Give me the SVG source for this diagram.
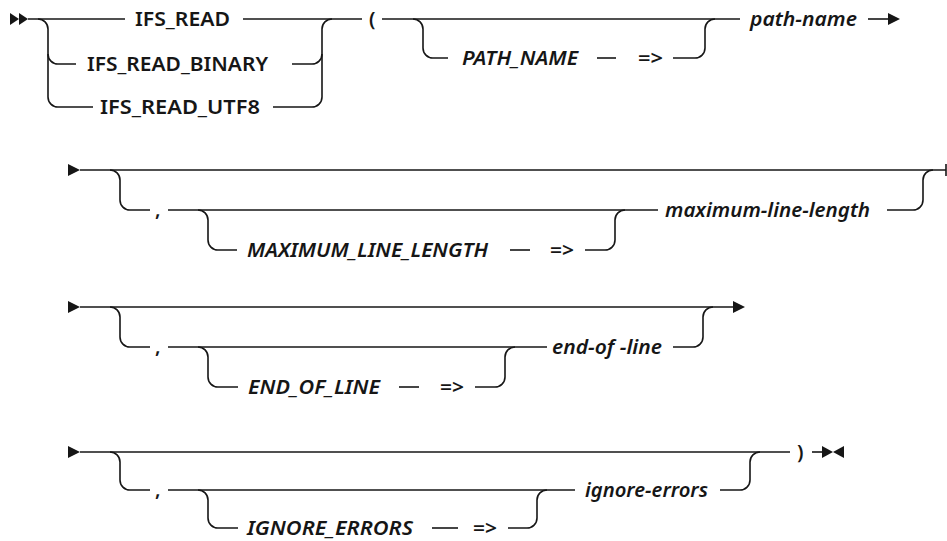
<svg xmlns="http://www.w3.org/2000/svg" width="947" height="541" viewBox="0 0 947 541">
<style>
.ln{fill:none;stroke:#161616;stroke-width:1.6}
.ah{fill:#161616;stroke:none}
.kw{font-family:"Noto Sans","Liberation Sans",sans-serif;font-weight:600;font-size:20px;fill:#161616}
.var{font-family:"Noto Sans","Liberation Sans",sans-serif;font-weight:600;font-style:italic;font-size:20px;fill:#161616}
</style>
<rect width="947" height="541" fill="#ffffff"/>
<g id="connectors">
  <polygon class="ah" points="10,13 19,19 10,25"/>
  <polygon class="ah" points="19,13 28,19 19,25"/>
  <path class="ln" d="M28,19 H125"/>
  <path class="ln" d="M38,19 A10,10 0 0 1 48,29 V97 A10,10 0 0 0 58,107 H93"/>
  <path class="ln" d="M48,54 A10,10 0 0 0 58,64 H76"/>
  <path class="ln" d="M243,19 H362"/>
  <path class="ln" d="M292,64 H312 A10,10 0 0 0 322,54 V29 A10,10 0 0 1 332,19"/>
  <path class="ln" d="M273,107 H312 A10,10 0 0 0 322,97 V54"/>
  <path class="ln" d="M382,19 H740"/>
  <path class="ln" d="M413,19 A10,10 0 0 1 423,29 V48 A10,10 0 0 0 433,58 H448"/>
  <path class="ln" d="M597,58 H616"/>
  <path class="ln" d="M673,58 H695 A10,10 0 0 0 705,48 V29 A10,10 0 0 1 715,19"/>
  <path class="ln" d="M868,19 H890"/>
  <polygon class="ah" points="888,13 900,19 888,25"/>
  <polygon class="ah" points="68,164 80,170 68,176"/>
  <path class="ln" d="M80,170 H946"/>
  <path class="ln" d="M946,164 V176"/>
  <path class="ln" d="M110,170 A10,10 0 0 1 120,180 V200 A10,10 0 0 0 130,210 H150"/>
  <path class="ln" d="M168,210 H658"/>
  <path class="ln" d="M198,210 A10,10 0 0 1 208,220 V240 A10,10 0 0 0 218,250 H237"/>
  <path class="ln" d="M510,250 H530"/>
  <path class="ln" d="M585,250 H605 A10,10 0 0 0 615,240 V220 A10,10 0 0 1 625,210"/>
  <path class="ln" d="M887,210 H913 A10,10 0 0 0 923,200 V180 A10,10 0 0 1 933,170"/>
  <polygon class="ah" points="68,301 80,307 68,313"/>
  <path class="ln" d="M80,307 H735"/>
  <polygon class="ah" points="733,301 745,307 733,313"/>
  <path class="ln" d="M110,307 A10,10 0 0 1 120,317 V337 A10,10 0 0 0 130,347 H150"/>
  <path class="ln" d="M168,347 H547"/>
  <path class="ln" d="M198,347 A10,10 0 0 1 208,357 V377 A10,10 0 0 0 218,387 H238"/>
  <path class="ln" d="M399,387 H419"/>
  <path class="ln" d="M475,387 H495 A10,10 0 0 0 505,377 V357 A10,10 0 0 1 515,347"/>
  <path class="ln" d="M673,347 H693 A10,10 0 0 0 703,337 V317 A10,10 0 0 1 713,307"/>
  <polygon class="ah" points="68,446 80,452 68,458"/>
  <path class="ln" d="M80,452 H790"/>
  <path class="ln" d="M110,452 A10,10 0 0 1 120,462 V480 A10,10 0 0 0 130,490 H150"/>
  <path class="ln" d="M168,490 H575"/>
  <path class="ln" d="M198,490 A10,10 0 0 1 208,500 V518 A10,10 0 0 0 218,528 H238"/>
  <path class="ln" d="M432,528 H458"/>
  <path class="ln" d="M508,528 H527 A10,10 0 0 0 537,518 V500 A10,10 0 0 1 547,490"/>
  <path class="ln" d="M720,490 H740 A10,10 0 0 0 750,480 V462 A10,10 0 0 1 760,452"/>
  <path class="ln" d="M812,452 H823"/>
  <polygon class="ah" points="822,446 833,452 822,458"/>
  <polygon class="ah" points="844,446 833,452 844,458"/>
</g>
<g id="node-ifs-read"><text class="kw" x="135" y="26" textLength="95" lengthAdjust="spacingAndGlyphs">IFS_READ</text></g>
<g id="node-ifs-read-binary"><text class="kw" x="87" y="71" textLength="181" lengthAdjust="spacingAndGlyphs">IFS_READ_BINARY</text></g>
<g id="node-ifs-read-utf8"><text class="kw" x="100" y="114" textLength="160" lengthAdjust="spacingAndGlyphs">IFS_READ_UTF8</text></g>
<g id="node-lparen"><text class="kw" x="369" y="26">(</text></g>
<g id="node-path-name-kw"><text class="var" x="462" y="65" textLength="116" lengthAdjust="spacingAndGlyphs">PATH_NAME</text></g>
<g id="node-arrow1"><text class="kw" x="638" y="65" textLength="25" lengthAdjust="spacingAndGlyphs">=&gt;</text></g>
<g id="node-path-name"><text class="var" x="750" y="26" textLength="107" lengthAdjust="spacingAndGlyphs">path-name</text></g>
<g id="node-comma1"><text class="kw" x="155" y="216">,</text></g>
<g id="node-max-kw"><text class="var" x="247" y="257" textLength="241" lengthAdjust="spacingAndGlyphs">MAXIMUM_LINE_LENGTH</text></g>
<g id="node-arrow2"><text class="kw" x="550" y="257" textLength="24" lengthAdjust="spacingAndGlyphs">=&gt;</text></g>
<g id="node-max"><text class="var" x="665" y="217" textLength="205" lengthAdjust="spacingAndGlyphs">maximum-line-length</text></g>
<g id="node-comma2"><text class="kw" x="155" y="353">,</text></g>
<g id="node-eol-kw"><text class="var" x="248" y="394" textLength="132" lengthAdjust="spacingAndGlyphs">END_OF_LINE</text></g>
<g id="node-arrow3"><text class="kw" x="440" y="394" textLength="24" lengthAdjust="spacingAndGlyphs">=&gt;</text></g>
<g id="node-eol"><text class="var" x="552" y="354" textLength="110" lengthAdjust="spacingAndGlyphs">end-of -line</text></g>
<g id="node-comma3"><text class="kw" x="155" y="496">,</text></g>
<g id="node-ign-kw"><text class="var" x="247" y="535" textLength="166" lengthAdjust="spacingAndGlyphs">IGNORE_ERRORS</text></g>
<g id="node-arrow4"><text class="kw" x="473" y="535" textLength="24" lengthAdjust="spacingAndGlyphs">=&gt;</text></g>
<g id="node-ign"><text class="var" x="585" y="497" textLength="123" lengthAdjust="spacingAndGlyphs">ignore-errors</text></g>
<g id="node-rparen"><text class="kw" x="797" y="459">)</text></g>
</svg>
